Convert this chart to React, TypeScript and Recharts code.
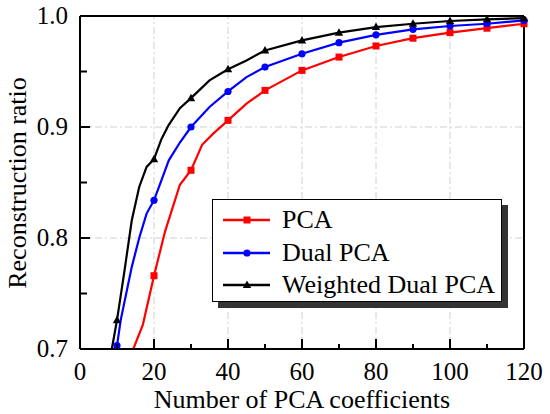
import { LineChart, Line, XAxis, YAxis, ReferenceLine } from 'recharts';

const xTicks = [0, 10, 20, 30, 40, 50, 60, 70, 80, 90, 100, 110, 120];
const yTicks = [0.7, 0.75, 0.8, 0.85, 0.9, 0.95, 1.0];
const xGrid = [20, 40, 60, 80, 100];
const yGrid = [0.8, 0.9];

const pcaPoints = [
  { x: 14.4, y: 0.7 }, { x: 15, y: 0.705 }, { x: 17, y: 0.722 }, { x: 20, y: 0.766 },
  { x: 23, y: 0.806 }, { x: 27, y: 0.848 }, { x: 30, y: 0.861 }, { x: 33, y: 0.884 },
  { x: 36, y: 0.894 }, { x: 40, y: 0.906 }, { x: 45, y: 0.921 }, { x: 50, y: 0.933 },
  { x: 60, y: 0.951 }, { x: 70, y: 0.963 }, { x: 80, y: 0.973 }, { x: 90, y: 0.98 },
  { x: 100, y: 0.985 }, { x: 110, y: 0.989 }, { x: 120, y: 0.993 },
];

const dualPoints = [
  { x: 9.6, y: 0.7 }, { x: 10, y: 0.703 }, { x: 11, y: 0.726 }, { x: 14, y: 0.774 },
  { x: 16, y: 0.8 }, { x: 18, y: 0.822 }, { x: 20, y: 0.834 }, { x: 22, y: 0.852 },
  { x: 24, y: 0.87 }, { x: 27, y: 0.886 }, { x: 30, y: 0.9 }, { x: 35, y: 0.918 },
  { x: 40, y: 0.932 }, { x: 45, y: 0.945 }, { x: 50, y: 0.954 }, { x: 60, y: 0.966 },
  { x: 70, y: 0.976 }, { x: 80, y: 0.983 }, { x: 90, y: 0.988 }, { x: 100, y: 0.991 },
  { x: 110, y: 0.993 }, { x: 120, y: 0.996 },
];

const weightedPoints = [
  { x: 8.6, y: 0.7 }, { x: 10, y: 0.726 }, { x: 12, y: 0.77 }, { x: 14, y: 0.816 },
  { x: 16, y: 0.846 }, { x: 18, y: 0.864 }, { x: 20, y: 0.871 }, { x: 22, y: 0.889 },
  { x: 24, y: 0.902 }, { x: 27, y: 0.917 }, { x: 30, y: 0.926 }, { x: 35, y: 0.942 },
  { x: 40, y: 0.952 }, { x: 45, y: 0.96 }, { x: 50, y: 0.969 }, { x: 60, y: 0.978 },
  { x: 70, y: 0.985 }, { x: 80, y: 0.99 }, { x: 90, y: 0.993 }, { x: 100, y: 0.9955 },
  { x: 110, y: 0.997 }, { x: 120, y: 0.998 },
];

const series = [
  { name: 'PCA', points: pcaPoints, color: '#ff0000', marker: 'square' },
  { name: 'Dual PCA', points: dualPoints, color: '#0000ff', marker: 'circle' },
  { name: 'Weighted Dual PCA', points: weightedPoints, color: '#000000', marker: 'triangle' },
];

// named serif families don't resolve here, the generic one does
const FONT = "'Times New Roman', serif";

function Marker({ kind, cx, cy, color }: { kind: string; cx: number; cy: number; color: string }) {
  if (kind === 'square') return <rect x={cx - 3.5} y={cy - 3.5} width={7} height={7} fill={color} />;
  if (kind === 'circle') return <circle cx={cx} cy={cy} r={3.6} fill={color} />;
  return <path d={`M${cx},${cy - 4.5} L${cx + 4.2},${cy + 3} L${cx - 4.2},${cy + 3} Z`} fill={color} />;
}

function makeDot(kind: string, color: string) {
  return (props: any) => {
    const { cx, cy, payload, index } = props;
    if (payload.x % 10 !== 0 || cx == null) return <g key={index} />;
    return (
      <g key={index}>
        <Marker kind={kind} cx={cx} cy={cy} color={color} />
      </g>
    );
  };
}

const XTick = (props: any) => {
  const { x, y, payload } = props;
  const major = payload.value % 20 === 0;
  return (
    <g>
      <line x1={x} y1={y} x2={x} y2={y - (major ? 10 : 5)} stroke="#000" strokeWidth={2} />
      {major && (
        <text x={x} y={y + 31} textAnchor="middle" style={{ fontSize: 25, fontFamily: FONT }} fill="#000">
          {payload.value}
        </text>
      )}
    </g>
  );
};

const YTick = (props: any) => {
  const { x, y, payload } = props;
  const major = Math.round(payload.value * 100) % 10 === 0;
  return (
    <g>
      <line x1={x} y1={y} x2={x + (major ? 10 : 7)} y2={y} stroke="#000" strokeWidth={2} />
      {major && (
        <text x={x - 12} y={y + 8} textAnchor="end" style={{ fontSize: 25, fontFamily: FONT }} fill="#000">
          {payload.value.toFixed(1)}
        </text>
      )}
    </g>
  );
};

function LegendBox() {
  return (
    <div style={{ position: 'absolute', left: 212, top: 199, width: 296, height: 109, fontFamily: FONT }}>
      <div style={{ position: 'absolute', left: 6, top: 6, width: 290, height: 103, background: '#333' }} />
      <div
        style={{
          position: 'absolute', left: 0, top: 0, width: 288, height: 101,
          background: '#fff', border: '1px solid #000',
        }}
      >
        {series.map((s, i) => (
          <div
            key={s.name}
            style={{
              position: 'absolute', left: 0, top: 4 + i * 32.5, height: 32, width: 288,
              display: 'flex', alignItems: 'center',
            }}
          >
            <svg width={66} height={32} style={{ flex: 'none' }}>
              <line x1={10} y1={16} x2={57} y2={16} stroke={s.color} strokeWidth={2.5} />
              <Marker kind={s.marker} cx={34} cy={16} color={s.color} />
            </svg>
            <span style={{ fontSize: 26, lineHeight: '32px', color: '#000', marginLeft: 3 }}>{s.name}</span>
          </div>
        ))}
      </div>
    </div>
  );
}

export default function App() {
  return (
    <div style={{ position: 'absolute', left: 0, top: 0, width: 550, height: 414, background: '#fff' }}>
      <LineChart width={550} height={414} margin={{ top: 16, right: 26, bottom: 35, left: 0 }}>
        {xGrid.map((v) => (
          <ReferenceLine key={`gx${v}`} x={v} stroke="#d0d0d0" strokeDasharray="7 3 2 3" />
        ))}
        {yGrid.map((v) => (
          <ReferenceLine key={`gy${v}`} y={v} stroke="#d0d0d0" strokeDasharray="7 3 2 3" />
        ))}
        <XAxis
          dataKey="x"
          type="number"
          domain={[0, 120]}
          ticks={xTicks}
          tick={<XTick />}
          tickLine={false}
          tickSize={0}
          tickMargin={0}
          interval={0}
          height={30}
          axisLine={{ stroke: '#000', strokeWidth: 2 }}
          allowDuplicatedCategory={false}
        />
        <YAxis
          type="number"
          domain={[0.7, 1.0]}
          ticks={yTicks}
          tick={<YTick />}
          tickLine={false}
          tickSize={0}
          tickMargin={0}
          interval={0}
          width={80}
          allowDataOverflow
          axisLine={{ stroke: '#000', strokeWidth: 2 }}
        />
        <ReferenceLine y={1.0} stroke="#000" strokeWidth={2} />
        <ReferenceLine x={120} stroke="#000" strokeWidth={2} />
        {series.map((s) => (
          <Line
            key={s.name}
            data={s.points}
            dataKey="y"
            name={s.name}
            type="linear"
            stroke={s.color}
            strokeWidth={2.2}
            dot={makeDot(s.marker, s.color)}
            activeDot={false}
            isAnimationActive={false}
          />
        ))}
        <text x={302} y={408} textAnchor="middle" style={{ fontSize: 26, fontFamily: FONT }} fill="#000">
          Number of PCA coefficients
        </text>
        <text
          x={26}
          y={183}
          transform="rotate(-90, 26, 183)"
          textAnchor="middle"
          style={{ fontSize: 26, fontFamily: FONT }}
          fill="#000"
        >
          Reconstruction ratio
        </text>
      </LineChart>
      <LegendBox />
    </div>
  );
}
